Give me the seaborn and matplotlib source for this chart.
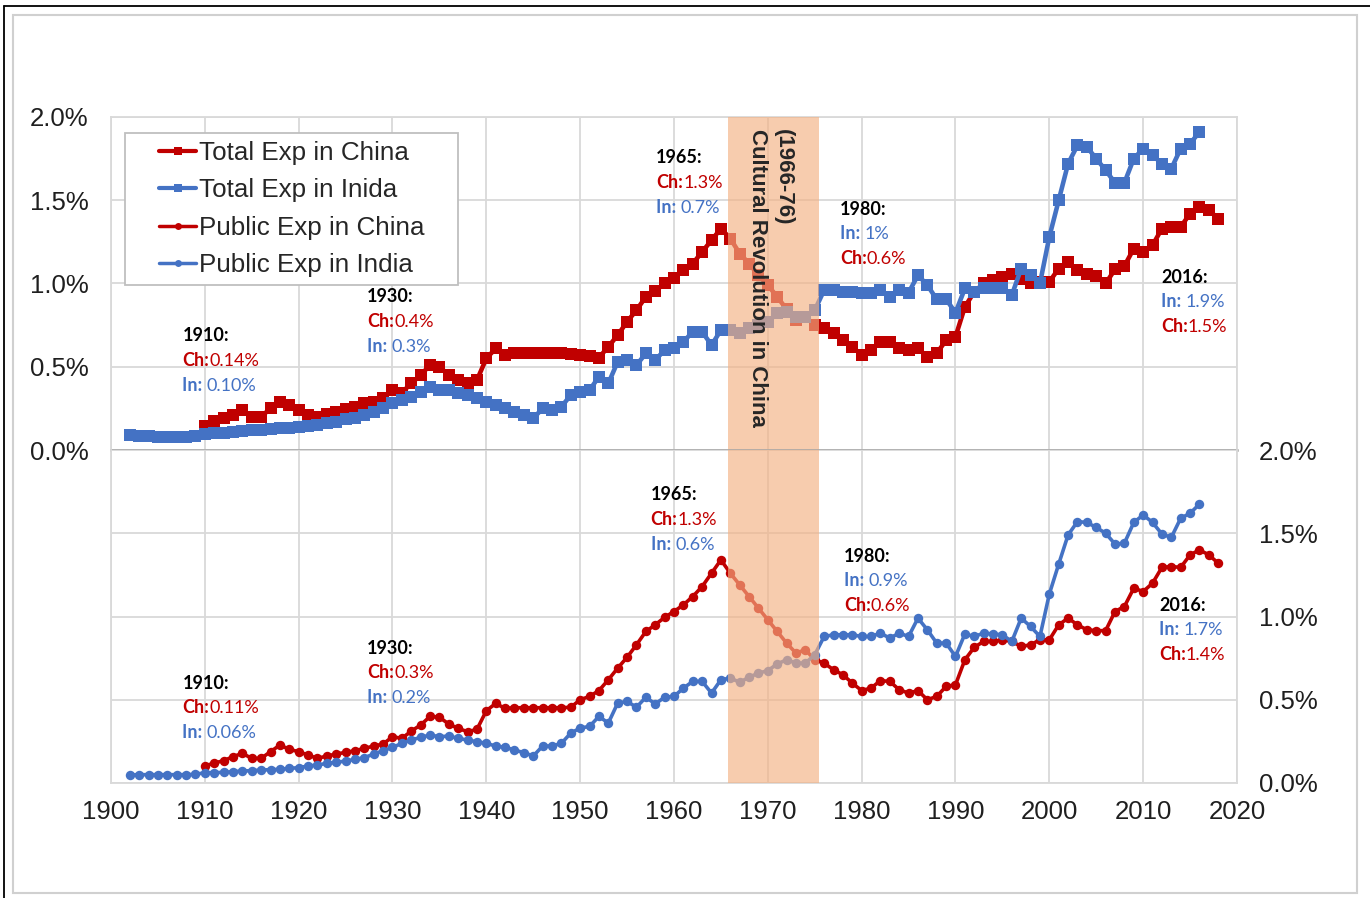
from __future__ import annotations

import matplotlib

matplotlib.use("Agg")
import matplotlib.pyplot as plt
from matplotlib.legend_handler import HandlerLine2D
from matplotlib.lines import Line2D
import seaborn as sns


RED = "#C00000"
BLUE = "#4472C4"
GRID = "#D9D9D9"
SHADE = "#F4B183"

INDIA_YEARS = list(range(1902, 2017))
CHINA_YEARS = list(range(1910, 2019))

total_india = [
    0.09, 0.087, 0.082, 0.08, 0.08, 0.08, 0.08, 0.085, 0.095,
    0.10, 0.105, 0.11, 0.115, 0.118, 0.12, 0.125, 0.13, 0.135, 0.138,
    0.144, 0.15, 0.16, 0.17, 0.184, 0.194, 0.21, 0.23, 0.25, 0.28,
    0.30, 0.32, 0.35, 0.38, 0.36, 0.36, 0.34, 0.33, 0.31, 0.29,
    0.27, 0.25, 0.23, 0.21, 0.19, 0.25, 0.24, 0.26, 0.33, 0.35,
    0.36, 0.44, 0.40, 0.53, 0.54, 0.51, 0.58, 0.54, 0.60, 0.61,
    0.65, 0.71, 0.71, 0.63, 0.72, 0.72, 0.70, 0.73, 0.75, 0.77,
    0.82, 0.83, 0.80, 0.80, 0.84, 0.96, 0.96, 0.95, 0.95, 0.945,
    0.94, 0.96, 0.92, 0.96, 0.945, 1.05, 0.99, 0.905, 0.905, 0.825,
    0.97, 0.95, 0.97, 0.97, 0.97, 0.93, 1.09, 1.05, 1.00, 1.28,
    1.50, 1.72, 1.83, 1.82, 1.75, 1.68, 1.605, 1.605, 1.75, 1.81,
    1.77, 1.72, 1.69, 1.81, 1.84, 1.91,
]
total_china = [
    0.144,
    0.174, 0.19, 0.21, 0.24, 0.20, 0.20, 0.25, 0.29, 0.27, 0.24,
    0.21, 0.196, 0.216, 0.23, 0.244, 0.26, 0.28, 0.29, 0.31, 0.36,
    0.345, 0.40, 0.45, 0.51, 0.50, 0.45, 0.42, 0.40, 0.42, 0.55,
    0.61, 0.57, 0.58, 0.58, 0.585, 0.585, 0.58, 0.58, 0.575, 0.57,
    0.565, 0.555, 0.62, 0.69, 0.77, 0.84, 0.92, 0.955, 1.00, 1.035,
    1.08, 1.12, 1.19, 1.26, 1.33, 1.27, 1.18, 1.12, 1.05, 0.99,
    0.92, 0.845, 0.78, 0.80, 0.75, 0.73, 0.70, 0.66, 0.62, 0.57,
    0.60, 0.65, 0.65, 0.61, 0.60, 0.61, 0.56, 0.58, 0.66, 0.68,
    0.86, 0.95, 1.00, 1.02, 1.04, 1.06, 1.03, 1.00, 1.01, 1.01,
    1.09, 1.13, 1.08, 1.06, 1.045, 1.00, 1.085, 1.105, 1.21, 1.19,
    1.23, 1.33, 1.34, 1.34, 1.42, 1.46, 1.44, 1.39,
]
public_india = [
    0.048, 0.05, 0.05, 0.05, 0.05, 0.05, 0.05, 0.052, 0.062,
    0.062, 0.064, 0.068, 0.072, 0.074, 0.078, 0.08, 0.082, 0.088, 0.092,
    0.102, 0.108, 0.118, 0.124, 0.132, 0.142, 0.152, 0.174, 0.194, 0.214,
    0.238, 0.258, 0.274, 0.288, 0.278, 0.282, 0.268, 0.258, 0.248, 0.238,
    0.222, 0.214, 0.198, 0.182, 0.162, 0.222, 0.222, 0.238, 0.30, 0.33,
    0.34, 0.40, 0.36, 0.48, 0.49, 0.455, 0.515, 0.475, 0.515, 0.52,
    0.57, 0.61, 0.61, 0.54, 0.62, 0.63, 0.605, 0.635, 0.66, 0.675,
    0.715, 0.74, 0.72, 0.72, 0.77, 0.88, 0.89, 0.89, 0.89, 0.88,
    0.88, 0.90, 0.87, 0.90, 0.88, 0.99, 0.92, 0.84, 0.84, 0.76,
    0.895, 0.88, 0.90, 0.895, 0.89, 0.85, 0.99, 0.94, 0.88, 1.135,
    1.315, 1.49, 1.57, 1.565, 1.535, 1.50, 1.435, 1.44, 1.565, 1.61,
    1.565, 1.495, 1.475, 1.59, 1.62, 1.675,
]
public_china = [
    0.102,
    0.12, 0.134, 0.158, 0.178, 0.148, 0.148, 0.188, 0.228, 0.202, 0.188,
    0.168, 0.148, 0.162, 0.174, 0.184, 0.194, 0.208, 0.222, 0.234, 0.278,
    0.268, 0.312, 0.348, 0.40, 0.395, 0.354, 0.328, 0.308, 0.322, 0.434,
    0.478, 0.448, 0.452, 0.452, 0.452, 0.452, 0.452, 0.452, 0.455, 0.50,
    0.52, 0.555, 0.62, 0.69, 0.755, 0.83, 0.91, 0.95, 0.995, 1.03,
    1.07, 1.12, 1.18, 1.26, 1.34, 1.26, 1.19, 1.12, 1.05, 0.98,
    0.91, 0.84, 0.78, 0.80, 0.74, 0.72, 0.68, 0.65, 0.60, 0.555,
    0.57, 0.615, 0.61, 0.56, 0.54, 0.555, 0.50, 0.52, 0.58, 0.59,
    0.74, 0.815, 0.85, 0.85, 0.86, 0.85, 0.82, 0.83, 0.86, 0.86,
    0.95, 0.99, 0.95, 0.92, 0.915, 0.915, 1.03, 1.06, 1.17, 1.15,
    1.20, 1.295, 1.30, 1.295, 1.37, 1.40, 1.37, 1.32,
]

LEGEND_LABELS = [
    "Total Exp in China",
    "Total Exp in Inida",
    "Public Exp in China",
    "Public Exp in India",
]
Y_TICKS = [0.0, 0.5, 1.0, 1.5, 2.0]
X_TICKS = list(range(1900, 2021, 10))

# (year label, x, y of first line, [(prefix, value, colour), ...])
TOP_NOTES = [
    ("1910:", 1907.6, 0.685, [("Ch:", "0.14%", RED), ("In: ", "0.10%", BLUE)]),
    ("1930:", 1927.3, 0.92, [("Ch:", "0.4%", RED), ("In: ", "0.3%", BLUE)]),
    ("1965:", 1958.1, 1.754, [("Ch:", "1.3%", RED), ("In: ", "0.7%", BLUE)]),
    ("1980:", 1977.7, 1.447, [("In: ", "1%", BLUE), ("Ch:", "0.6%", RED)]),
    ("2016:", 2011.9, 1.039, [("In: ", "1.9%", BLUE), ("Ch:", "1.5%", RED)]),
]
BOTTOM_NOTES = [
    ("1910:", 1907.6, 0.60, [("Ch:", "0.11%", RED), ("In: ", "0.06%", BLUE)]),
    ("1930:", 1927.3, 0.81, [("Ch:", "0.3%", RED), ("In: ", "0.2%", BLUE)]),
    ("1965:", 1957.5, 1.73, [("Ch:", "1.3%", RED), ("In: ", "0.6%", BLUE)]),
    ("1980:", 1978.1, 1.363, [("In: ", "0.9%", BLUE), ("Ch:", "0.6%", RED)]),
    ("2016:", 2011.7, 1.069, [("In: ", "1.7%", BLUE), ("Ch:", "1.4%", RED)]),
]


def style_axis(ax, right: bool) -> None:
    ax.set_xlim(1900, 2020)
    ax.set_ylim(0, 2.0)
    ax.set_xticks(X_TICKS)
    ax.set_yticks(Y_TICKS)
    ax.set_yticklabels([f"{v:.1f}%" for v in Y_TICKS])
    ax.grid(True, color=GRID, linewidth=1.3)
    ax.set_axisbelow(True)
    ax.set_xlabel("")
    ax.set_ylabel("")
    for spine in ax.spines.values():
        spine.set_color(GRID)
        spine.set_linewidth(1.3)
    if right:
        ax.yaxis.tick_right()
    ax.tick_params(axis="y", length=0, pad=16, labelsize=18.5, labelcolor="#1F1F1F")
    ax.tick_params(axis="x", length=0, pad=12, labelsize=18.5, labelcolor="#1F1F1F")


def add_notes(ax, notes) -> None:
    step = 0.148
    for year, x, y, rows in notes:
        ax.text(x, y, year, fontsize=13, fontweight="bold", family="Lato",
                color="black", va="center", ha="left", zorder=7)
        for i, (prefix, value, color) in enumerate(rows):
            label = ax.text(x, y - step * (i + 1), prefix, fontsize=13, fontweight="bold",
                            family="Lato", color=color, va="center", ha="left", zorder=7)
            ax.annotate(value, xy=(1, 0), xycoords=label, va="bottom", ha="left",
                        fontsize=13, family="Lato", color=color, zorder=7)


def main() -> None:
    sns.set_theme(style="white")
    plt.rcParams["font.family"] = ["Liberation Sans", "DejaVu Sans"]

    fig = plt.figure(figsize=(13.7, 8.98), dpi=100)
    left, width = 111 / 1370, 1126 / 1370
    height = 333 / 898
    top = fig.add_axes([left, 1 - 450 / 898, width, height])
    bottom = fig.add_axes([left, 1 - 783 / 898, width, height])

    sq = dict(marker="s", markersize=8, linewidth=3.3, markeredgewidth=0, legend=False)
    sns.lineplot(x=CHINA_YEARS, y=total_china, ax=top, color=RED, **sq)
    sns.lineplot(x=INDIA_YEARS, y=total_india, ax=top, color=BLUE, **sq)

    dot = dict(marker="o", markersize=6.8, linewidth=2.6, markeredgewidth=0, legend=False)
    sns.lineplot(x=CHINA_YEARS, y=public_china, ax=bottom, color=RED, **dot)
    sns.lineplot(x=INDIA_YEARS, y=public_india, ax=bottom, color=BLUE, **dot)

    style_axis(top, right=False)
    style_axis(bottom, right=True)
    top.set_xticklabels([])
    top.spines["bottom"].set_color("#A6A6A6")
    top.spines["bottom"].set_linewidth(1.8)
    top.spines["bottom"].set_zorder(5)
    bottom.spines["top"].set_visible(False)

    for ax in (top, bottom):
        ax.axvspan(1965.8, 1975.5, color=SHADE, alpha=0.65, lw=0, zorder=4)

    top.text(1970.3, 1.93, "(1966-76)\nCultural Revolution in China", rotation=270,
             ha="center", va="top", fontsize=16, fontweight="bold", linespacing=1.3,
             multialignment="left", zorder=6)

    add_notes(top, TOP_NOTES)
    add_notes(bottom, BOTTOM_NOTES)

    handles = [
        Line2D([], [], color=RED, marker="s", markersize=6, linewidth=3, markeredgewidth=0),
        Line2D([], [], color=BLUE, marker="s", markersize=6, linewidth=3, markeredgewidth=0),
        Line2D([], [], color=RED, marker="o", markersize=5, linewidth=2.5, markeredgewidth=0),
        Line2D([], [], color=BLUE, marker="o", markersize=5, linewidth=2.5, markeredgewidth=0),
    ]
    leg = top.legend(
        handles, LEGEND_LABELS, loc="upper left", mode="expand",
        bbox_to_anchor=(0.0124, 0.5, 0.2957, 0.452), borderaxespad=0,
        fontsize=18.7, handlelength=2.45, handletextpad=0.1, labelspacing=0.52,
        borderpad=0.3, frameon=True, fancybox=False, framealpha=1,
        edgecolor="#BFBFBF", facecolor="white",
        handler_map={Line2D: HandlerLine2D(xpad=1.0)},
    )
    leg.set_zorder(8)
    leg.get_frame().set_linewidth(1.3)

    # frame round the picture
    fig.add_artist(plt.Rectangle((13 / 1370, 1 - 893 / 898), 1344 / 1370, 878 / 898,
                                 transform=fig.transFigure, fill=False,
                                 edgecolor="#D0D0D0", linewidth=1.5))
    fig.add_artist(Line2D([4 / 1370, 4 / 1370], [0, 1 - 6 / 898],
                          transform=fig.transFigure, color="black", linewidth=1.3))
    fig.add_artist(Line2D([4 / 1370, 1], [1 - 6 / 898, 1 - 6 / 898],
                          transform=fig.transFigure, color="black", linewidth=1.3))

    fig.savefig("out.png", dpi=100)
    plt.close(fig)


if __name__ == "__main__":
    main()
